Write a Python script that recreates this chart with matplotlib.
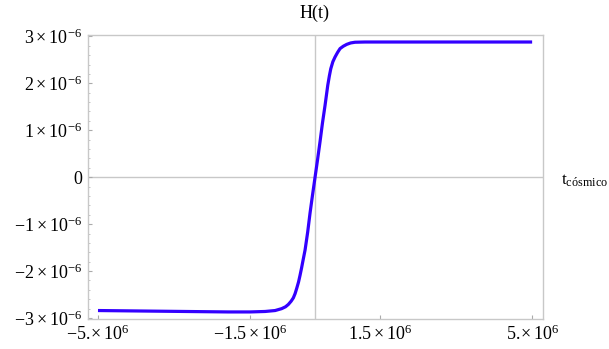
import numpy as np
import matplotlib
matplotlib.use("Agg")
import matplotlib.pyplot as plt
from matplotlib.ticker import MultipleLocator

plt.rcParams['font.family'] = ['Liberation Serif', 'DejaVu Serif']
plt.rcParams['mathtext.fontset'] = 'custom'
plt.rcParams['mathtext.rm'] = 'Liberation Serif'
plt.rcParams['mathtext.default'] = 'regular'

# values (t in 1e6, H in 1e-6)
t_vals = [-5.0, -4.0, -3.0, -2.0, -1.5, -1.15, -0.92, -0.77, -0.68, -0.615, -0.55,
          -0.5, -0.46, -0.42, -0.38, -0.346, -0.31, -0.283, -0.23, -0.17, -0.115,
          -0.06, 0.0, 0.06, 0.115, 0.17, 0.23, 0.293, 0.33, 0.362, 0.41, 0.46,
          0.52, 0.576, 0.65, 0.73, 0.82, 0.92, 1.15, 1.5, 2.0, 3.0, 4.0, 5.0]
h_vals = [-2.84, -2.85, -2.86, -2.87, -2.87, -2.86, -2.84, -2.80, -2.76, -2.71, -2.64,
          -2.57, -2.48, -2.36, -2.23, -2.09, -1.93, -1.80, -1.55, -1.17, -0.76,
          -0.39, 0.0, 0.39, 0.76, 1.15, 1.53, 1.96, 2.16, 2.31, 2.46, 2.56,
          2.66, 2.74, 2.79, 2.83, 2.86, 2.875, 2.88, 2.88, 2.88, 2.88, 2.88, 2.88]

xtick_pos = [-5e6, -1.5e6, 1.5e6, 5e6]
xtick_lab = [r'$-5.\!{\times}\,10^{6}$', r'$-1.5\,{\times}\,10^{6}$',
             r'$1.5\,{\times}\,10^{6}$', r'$5.\!{\times}\,10^{6}$']
ytick_pos = [-3e-6, -2e-6, -1e-6, 0, 1e-6, 2e-6, 3e-6]
ytick_lab = [r'$-3\,{\times}\,10^{-6}$', r'$-2\,{\times}\,10^{-6}$', r'$-1\,{\times}\,10^{-6}$', '0',
             r'$1\,{\times}\,10^{-6}$', r'$2\,{\times}\,10^{-6}$', r'$3\,{\times}\,10^{-6}$']

t = np.array(t_vals) * 1e6
h = np.array(h_vals) * 1e-6

fig = plt.figure(figsize=(6.09, 3.49), dpi=100)
ax = fig.add_axes([0.1445, 0.086, 0.7471, 0.8138])

grey = '#c8c8c8'
ax.axhline(0, color=grey, lw=1.0, zorder=1)
ax.axvline(0, color=grey, lw=1.0, zorder=1)
ax.plot(t, h, color='#3300ff', lw=2.3, solid_capstyle='butt',
        solid_joinstyle='round', zorder=3)

ax.set_xlim(-5.23e6, 5.25e6)
ax.set_ylim(-3.02e-6, 3.03e-6)

for s in ax.spines.values():
    s.set_color(grey)
    s.set_linewidth(1.0)

ax.set_xticks(xtick_pos)
ax.set_xticklabels(xtick_lab)
ax.set_yticks(ytick_pos)
ax.set_yticklabels(ytick_lab)
ax.yaxis.set_minor_locator(MultipleLocator(0.2e-6))
ax.tick_params(axis='both', which='major', direction='in', length=3, width=0.8,
               color='#aaaaaa', labelsize=13, pad=4)
ax.tick_params(axis='y', which='minor', direction='in', length=1.5, width=0.6,
               color='#bbbbbb')
ax.tick_params(top=False, right=False)

fig.text(0.517, 0.962, 'H(t)', ha='center', va='center', fontsize=13)
fig.text(0.922, 0.483, r'$t_{\mathrm{cósmico}}$', ha='left', va='center', fontsize=12.5)

fig.savefig('out.png', dpi=100)
